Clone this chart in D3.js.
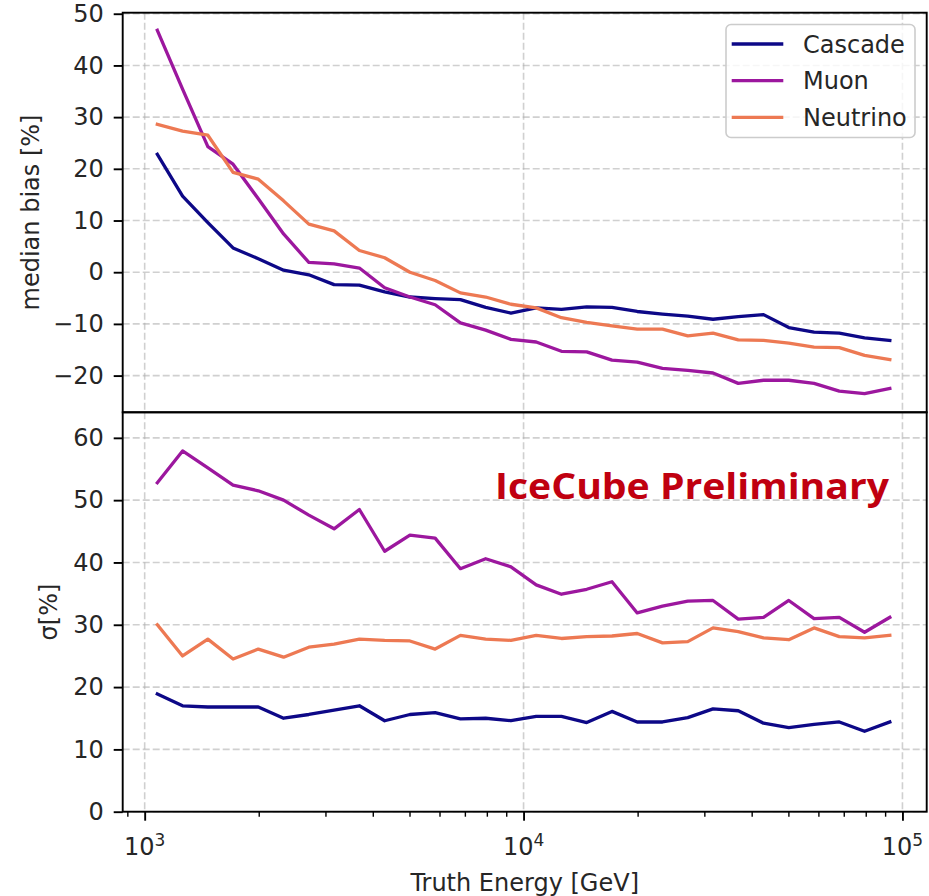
<!DOCTYPE html>
<html>
<head>
<meta charset="utf-8">
<script src="https://cdn.jsdelivr.net/npm/d3@7"></script>
<style>
  body { margin: 0; background: #ffffff; }
  svg text { font-family: "DejaVu Sans", sans-serif; fill: #262626; }
</style>
</head>
<body>
<svg id="chart" width="929" height="896"></svg>
<script>
// Energy bin centres [GeV], 30 log-spaced bins between 1 TeV and 100 TeV
const energy = [1080, 1259, 1468, 1711, 1995, 2326, 2712, 3162, 3687, 4299,
                5012, 5843, 6813, 7943, 9261, 10798, 12589, 14678, 17113, 19953,
                23263, 27123, 31623, 36869, 42987, 50119, 58434, 68129, 79433, 92611];

const seriesNames = ["Cascade", "Muon", "Neutrino"];

// median bias [%]
const biasCascade = [22.8, 14.7, 9.6, 4.7, 2.6, 0.4, -0.5, -2.4, -2.5, -3.8,
                     -4.8, -5.1, -5.3, -6.8, -7.9, -6.9, -7.2, -6.7, -6.8, -7.6,
                     -8.1, -8.5, -9.1, -8.6, -8.2, -10.7, -11.6, -11.8, -12.7, -13.2];
const biasMuon = [46.8, 35.4, 24.3, 20.9, 14.2, 7.4, 1.9, 1.6, 0.8, -3.0,
                  -4.8, -6.3, -9.8, -11.2, -13.0, -13.5, -15.3, -15.4, -17.0, -17.4,
                  -18.6, -19.0, -19.5, -21.5, -20.9, -20.9, -21.5, -23.0, -23.5, -22.5];
const biasNeutrino = [28.6, 27.3, 26.5, 19.3, 18.0, 13.8, 9.3, 8.0, 4.2, 2.8,
                      0.0, -1.6, -4.0, -4.8, -6.2, -6.9, -8.8, -9.7, -10.4, -11.0,
                      -11.0, -12.3, -11.8, -13.1, -13.2, -13.7, -14.5, -14.6, -16.1, -16.9];

// resolution sigma [%]
const sigmaCascade = [18.9, 17.0, 16.8, 16.8, 16.8, 15.0, 15.6, 16.3, 17.0, 14.6,
                      15.6, 15.9, 14.9, 15.0, 14.6, 15.3, 15.3, 14.3, 16.1, 14.4,
                      14.4, 15.1, 16.5, 16.2, 14.2, 13.5, 14.0, 14.4, 12.9, 14.4];
const sigmaMuon = [52.8, 57.9, 55.2, 52.4, 51.5, 50.0, 47.6, 45.4, 48.5, 41.8,
                   44.4, 43.9, 39.0, 40.6, 39.3, 36.4, 34.9, 35.7, 36.9, 31.9,
                   33.0, 33.8, 33.9, 30.9, 31.2, 33.9, 31.0, 31.2, 28.8, 31.2];
const sigmaNeutrino = [30.0, 25.0, 27.7, 24.5, 26.1, 24.8, 26.4, 26.9, 27.7, 27.5,
                       27.4, 26.1, 28.3, 27.7, 27.5, 28.3, 27.8, 28.1, 28.2, 28.6,
                       27.1, 27.3, 29.5, 28.9, 27.9, 27.6, 29.5, 28.1, 27.9, 28.3];

const biasTicks = [-20, -10, 0, 10, 20, 30, 40, 50];
const sigmaTicks = [0, 10, 20, 30, 40, 50, 60];
const energyMajorTicks = [1e3, 1e4, 1e5];
const energyMinorTicks = [900, 2000, 3000, 4000, 5000, 6000, 7000, 8000, 9000,
                          20000, 30000, 40000, 50000, 60000, 70000, 80000, 90000];
const energyTickExponents = ["3", "4", "5"];

const colors = ["#0d0887", "#9c179e", "#ed7953"];

// ---- layout ----
const svg = d3.select("#chart");
const left = 122.7, right = 926.7;
const topY0 = 12.7, split = 412.3, botY1 = 811.7;

const x = d3.scaleLog().domain([Math.pow(10, 2.942), Math.pow(10, 5.064)]).range([left, right]);
const yTop = d3.scaleLinear().domain([-27.1, 50.2]).range([split, topY0]);
const yBot = d3.scaleLinear().domain([0, 64.1]).range([botY1, split]);

const gridStyle = g => g.attr("stroke", "#b0b0b0").attr("stroke-opacity", 0.6)
                         .attr("stroke-width", 1.6).attr("stroke-dasharray", "7,3");

function panel(yScale, yTicks, y0, y1, data) {
  const g = svg.append("g");
  // grid
  const grid = g.append("g");
  grid.selectAll("line.h").data(yTicks).join("line")
      .attr("x1", left).attr("x2", right)
      .attr("y1", d => yScale(d)).attr("y2", d => yScale(d))
      .call(gridStyle);
  grid.selectAll("line.v").data(energyMajorTicks).join("line")
      .attr("x1", d => x(d)).attr("x2", d => x(d))
      .attr("y1", y0).attr("y2", y1)
      .call(gridStyle);
  // series
  const line = d3.line().x((d, i) => x(energy[i])).y(d => yScale(d));
  g.selectAll("path.series").data(data).join("path")
      .attr("class", "series")
      .attr("d", d => line(d))
      .attr("fill", "none")
      .attr("stroke", (d, i) => colors[i])
      .attr("stroke-width", 3.3)
      .attr("stroke-linejoin", "round")
      .attr("stroke-linecap", "square");
  // y axis
  const ax = g.append("g").attr("transform", `translate(${left},0)`)
      .call(d3.axisLeft(yScale).tickValues(yTicks).tickSize(9).tickPadding(10)
            .tickFormat(d3.format("d")));
  ax.select(".domain").remove();
  ax.selectAll(".tick line").attr("stroke", "#000").attr("stroke-width", 1.9);
  ax.selectAll(".tick text").attr("font-size", 24).attr("fill", "#262626")
      .attr("font-family", "DejaVu Sans");
  return g;
}

panel(yTop, biasTicks, topY0, split, [biasCascade, biasMuon, biasNeutrino]);
panel(yBot, sigmaTicks, split, botY1, [sigmaCascade, sigmaMuon, sigmaNeutrino]);

// x axis (bottom panel only)
const xMinor = svg.append("g").attr("transform", `translate(0,${botY1})`)
    .call(d3.axisBottom(x).tickValues(energyMinorTicks).tickSize(5).tickFormat(""));
xMinor.select(".domain").remove();
xMinor.selectAll(".tick line").attr("stroke", "#000").attr("stroke-width", 1.4);

const xMajor = svg.append("g").attr("transform", `translate(0,${botY1})`)
    .call(d3.axisBottom(x).tickValues(energyMajorTicks).tickSize(9).tickFormat(""));
xMajor.select(".domain").remove();
xMajor.selectAll(".tick line").attr("stroke", "#000").attr("stroke-width", 1.9);

const xLabels = svg.append("g").selectAll("text").data(energyMajorTicks).join("text")
    .attr("x", d => x(d)).attr("y", botY1 + 43)
    .attr("text-anchor", "middle").attr("font-size", 24);
xLabels.append("tspan").text("10");
xLabels.append("tspan").attr("font-size", 17).attr("dy", -9)
    .text((d, i) => energyTickExponents[i]);

// frames
svg.append("rect").attr("x", left).attr("y", topY0)
   .attr("width", right - left).attr("height", split - topY0)
   .attr("fill", "none").attr("stroke", "#000").attr("stroke-width", 1.9);
svg.append("rect").attr("x", left).attr("y", split)
   .attr("width", right - left).attr("height", botY1 - split)
   .attr("fill", "none").attr("stroke", "#000").attr("stroke-width", 1.9);

// axis titles
svg.append("text").attr("transform", `translate(38.5,${(topY0 + split) / 2}) rotate(-90)`)
   .attr("text-anchor", "middle").attr("font-size", 24).text("median bias [%]");
svg.append("text").attr("transform", `translate(57,${(split + botY1) / 2}) rotate(-90)`)
   .attr("text-anchor", "middle").attr("font-size", 24).text("σ[%]");
svg.append("text").attr("x", (left + right) / 2).attr("y", 891)
   .attr("text-anchor", "middle").attr("font-size", 24).text("Truth Energy [GeV]");

// legend
const lg = svg.append("g");
lg.append("rect").attr("x", 726).attr("y", 24.5).attr("width", 189).attr("height", 113)
  .attr("rx", 5).attr("fill", "#fff").attr("fill-opacity", 0.8)
  .attr("stroke", "#cccccc").attr("stroke-width", 1.6);
const rows = lg.selectAll("g.row").data(seriesNames).join("g")
  .attr("transform", (d, i) => `translate(0,${44 + i * 36.7})`);
rows.append("line").attr("x1", 731.7).attr("x2", 783.3)
  .attr("stroke", (d, i) => colors[i]).attr("stroke-width", 3.3);
rows.append("text").attr("x", 803).attr("dy", "0.36em").attr("font-size", 24)
  .text(d => d);

// preliminary stamp
svg.append("text").attr("x", 495).attr("y", 499.3)
   .attr("font-family", "'Open Sans', sans-serif").attr("font-weight", 700)
   .attr("font-size", 35).attr("textLength", 394).attr("lengthAdjust", "spacingAndGlyphs")
   .style("fill", "#c00010").style("font-family", "'Open Sans', sans-serif")
   .text("IceCube Preliminary");
</script>
</body>
</html>
